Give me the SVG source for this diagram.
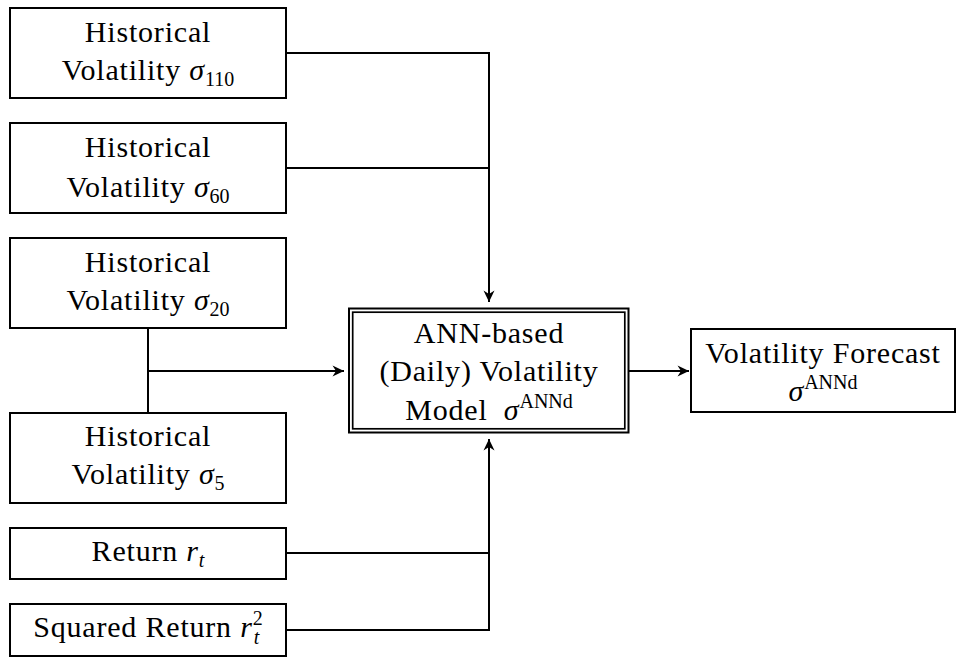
<svg xmlns="http://www.w3.org/2000/svg" width="959" height="657" viewBox="0 0 959 657">
<defs>
<style>
.box{fill:#fff;stroke:#000;stroke-width:2}
.ln{fill:none;stroke:#000;stroke-width:2}
text{font-family:"Liberation Serif","Times New Roman",serif;font-size:30px;fill:#000;text-anchor:middle;letter-spacing:0.8px}
.it{font-style:italic}
.sm{font-size:20px;letter-spacing:0}
</style>
<marker id="arr" markerUnits="userSpaceOnUse" markerWidth="14" markerHeight="12" viewBox="-12 -6 14 12" refX="0" refY="0" orient="auto">
<path d="M0,0 L-11.5,-5.5 L-8,0 L-11.5,5.5 Z" fill="#000"/>
</marker>
</defs>
<rect width="959" height="657" fill="#fff"/>
<g id="connectors">
<path class="ln" d="M286,53 H489 V302" marker-end="url(#arr)"/>
<path class="ln" d="M286,168 H489"/>
<path class="ln" d="M148,328 V413"/>
<path class="ln" d="M148,371 H344" marker-end="url(#arr)"/>
<path class="ln" d="M286,553 H489"/>
<path class="ln" d="M286,630 H489 V439" marker-end="url(#arr)"/>
<path class="ln" d="M629,371 H689" marker-end="url(#arr)"/>
</g>
<g id="hv110">
<rect class="box" x="10" y="8" width="276" height="90"/>
<text x="148" y="42">Historical</text>
<text x="148" y="80">Volatility <tspan class="it">σ</tspan><tspan class="sm" dy="6">110</tspan></text>
</g>
<g id="hv60">
<rect class="box" x="10" y="123" width="276" height="90"/>
<text x="148" y="157">Historical</text>
<text x="148" y="197">Volatility <tspan class="it">σ</tspan><tspan class="sm" dy="6">60</tspan></text>
</g>
<g id="hv20">
<rect class="box" x="10" y="238" width="276" height="90"/>
<text x="148" y="272">Historical</text>
<text x="148" y="310">Volatility <tspan class="it">σ</tspan><tspan class="sm" dy="6">20</tspan></text>
</g>
<g id="hv5">
<rect class="box" x="10" y="413" width="276" height="90"/>
<text x="148" y="446">Historical</text>
<text x="148" y="484">Volatility <tspan class="it">σ</tspan><tspan class="sm" dy="6">5</tspan></text>
</g>
<g id="ret">
<rect class="box" x="10" y="528" width="276" height="51"/>
<text x="148" y="561">Return <tspan class="it">r</tspan><tspan class="sm it" dy="6">t</tspan></text>
</g>
<g id="sqret">
<rect class="box" x="10" y="604" width="276" height="52"/>
<text x="148" y="637">Squared Return <tspan class="it">r</tspan><tspan class="sm" dy="-12">2</tspan><tspan class="sm it" dx="-9" dy="19">t</tspan></text>
</g>
<g id="model">
<rect class="box" x="349" y="308.5" width="279.5" height="124" stroke-width="1.7"/>
<rect x="352.7" y="312.2" width="272.1" height="116.6" fill="none" stroke="#000" stroke-width="1.7"/>
<text x="489" y="343">ANN-based</text>
<text x="489" y="381">(Daily) Volatility</text>
<text x="489" y="420">Model <tspan class="it" dx="8">σ</tspan><tspan class="sm" dy="-12">ANNd</tspan></text>
</g>
<g id="forecast">
<rect class="box" x="691" y="329" width="264" height="83"/>
<text x="823" y="363">Volatility Forecast</text>
<text x="823" y="401"><tspan class="it">σ</tspan><tspan class="sm" dy="-12">ANNd</tspan></text>
</g>
</svg>
